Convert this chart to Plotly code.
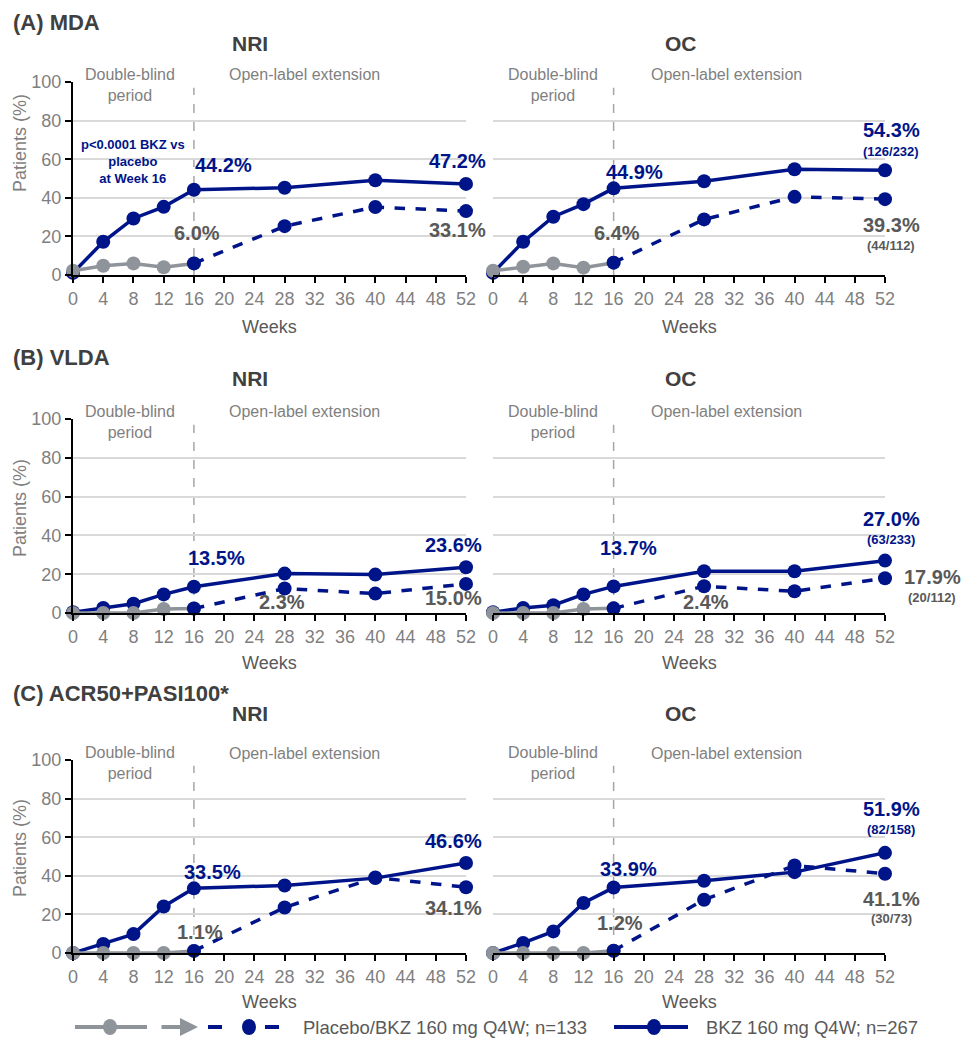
import plotly.graph_objects as go

# ---------------- data ----------------
weeks = [0, 4, 8, 12, 16, 28, 40, 52]
week_ticks = list(range(0, 53, 4))
y_ticks = [0, 20, 40, 60, 80, 100]
switch_week = 16

panel_titles = ["NRI", "OC", "NRI", "OC", "NRI", "OC"]
row_titles = ["(A) MDA", "(B) VLDA", "(C) ACR50+PASI100*"]

a_nri_bkz = [1.1, 17.2, 29.3, 35.3, 44.2, 45.2, 49.1, 47.2]
a_nri_pbo = [2.2, 4.8, 6.0, 4.0, 6.0, 25.3, 35.2, 33.1]
a_oc_bkz = [1.1, 17.2, 30.2, 36.7, 44.9, 48.6, 54.8, 54.3]
a_oc_pbo = [2.2, 4.3, 6.0, 3.8, 6.4, 28.8, 40.5, 39.3]
b_nri_bkz = [0.4, 2.6, 4.8, 9.6, 13.5, 20.3, 19.8, 23.6]
b_nri_pbo = [0.0, 0.0, 0.0, 2.1, 2.3, 12.6, 10.0, 15.0]
b_oc_bkz = [0.4, 2.6, 4.0, 9.6, 13.7, 21.5, 21.5, 27.0]
b_oc_pbo = [0.0, 0.0, 0.0, 2.1, 2.4, 13.8, 11.2, 17.9]
c_nri_bkz = [0.0, 4.7, 9.8, 24.1, 33.5, 35.0, 38.8, 46.6]
c_nri_pbo = [0.0, 0.0, 0.0, 0.0, 1.1, 23.6, 39.1, 34.1]
c_oc_bkz = [0.0, 5.2, 11.2, 25.9, 33.9, 37.4, 41.9, 51.9]
c_oc_pbo = [0.0, 0.0, 0.0, 0.0, 1.2, 27.6, 45.3, 41.1]

bkz_series = [a_nri_bkz, a_oc_bkz, b_nri_bkz, b_oc_bkz, c_nri_bkz, c_oc_bkz]
pbo_series = [a_nri_pbo, a_oc_pbo, b_nri_pbo, b_oc_pbo, c_nri_pbo, c_oc_pbo]

# OC week-52 counts (BKZ, placebo)
oc_counts_bkz = ["(126/232)", "(63/233)", "(82/158)"]
oc_counts_pbo = ["(44/112)", "(20/112)", "(30/73)"]

legend_pbo = "Placebo/BKZ 160 mg Q4W; n=133"
legend_bkz = "BKZ 160 mg Q4W; n=267"
p_text = "p<0.0001 BKZ vs<br>placebo<br>at Week 16"

# ---------------- style ----------------
W, H = 963, 1042
NAVY = "#001489"
GREY = "#8f949a"
DGREY = "#595959"
TGREY = "#7f7f7f"
FONT = "Liberation Sans, Arial, sans-serif"

col_px = [(73, 466), (493, 885)]
row_px = [(82, 275), (419, 613), (760, 953)]

fig = go.Figure()
annotations = []
shapes = []

def px_x(p):
    return p / W

def px_y(p):
    return 1 - p / H

# label offsets (xshift, yshift) per panel: bkz16, pbo16, bkz52, pbo52
label_shifts = [
    [(30, 25), (3, 30), (-9, 23), (-9, -19)],
    [(21, 16), (3, 30), (6, 40), (6, -26)],
    [(23, 29), (88, 7), (-13, 22), (-13, -14)],
    [(15, 38), (92, 6), (6, 42), (47, 1)],
    [(19, 16), (6, 19), (-13, 22), (-13, -21)],
    [(15, 19), (6, 28), (6, 44), (6, -25)],
]

for i in range(6):
    r, c = divmod(i, 2)
    xa = "x" if i == 0 else f"x{i+1}"
    ya = "y" if i == 0 else f"y{i+1}"
    xkey = "xaxis" if i == 0 else f"xaxis{i+1}"
    ykey = "yaxis" if i == 0 else f"yaxis{i+1}"
    x0, x1 = col_px[c]
    yt, yb = row_px[r]
    fig.layout[xkey] = dict(
        domain=[px_x(x0), px_x(x1)], range=[0, 52], anchor=ya, automargin=False,
        tickvals=week_ticks, showgrid=False, zeroline=False,
        showline=True, linecolor="black", linewidth=2,
        ticks="outside", ticklen=6, tickwidth=1.5, tickcolor="black",
        tickfont=dict(family=FONT, size=18, color=TGREY),
        fixedrange=True,
    )
    fig.layout[ykey] = dict(
        domain=[px_y(yb), px_y(yt)], range=[0, 100], anchor=xa, automargin=False,
        tickvals=y_ticks, showgrid=True, gridcolor="#d9d9d9", gridwidth=1.5,
        zeroline=False,
        showline=(c == 0), linecolor="black", linewidth=2,
        ticks="outside" if c == 0 else "", ticklen=6, tickwidth=1.5, tickcolor="black",
        showticklabels=(c == 0),
        tickfont=dict(family=FONT, size=18, color=TGREY),
        fixedrange=True,
    )

    bkz = bkz_series[i]
    pbo = pbo_series[i]
    k = weeks.index(switch_week)

    # vertical dashed divider
    shapes.append(dict(type="line", xref=xa, yref=ya, x0=switch_week, x1=switch_week,
                       y0=0, y1=97, line=dict(color="#a6a6a6", width=1.5, dash="dash"),
                       layer="below"))

    fig.add_trace(go.Scatter(x=weeks, y=bkz, xaxis=xa, yaxis=ya, mode="lines+markers",
                             line=dict(color=NAVY, width=3.5),
                             marker=dict(color=NAVY, size=14), cliponaxis=False,
                             showlegend=False, hoverinfo="skip"))
    fig.add_trace(go.Scatter(x=weeks[:k + 1], y=pbo[:k + 1], xaxis=xa, yaxis=ya,
                             mode="lines+markers",
                             line=dict(color=GREY, width=3.5),
                             marker=dict(color=GREY, size=14), cliponaxis=False,
                             showlegend=False, hoverinfo="skip"))
    fig.add_trace(go.Scatter(x=weeks[k:], y=pbo[k:], xaxis=xa, yaxis=ya,
                             mode="lines+markers",
                             line=dict(color=NAVY, width=3.5, dash="dash"),
                             marker=dict(color=NAVY, size=14), cliponaxis=False,
                             showlegend=False, hoverinfo="skip"))

    # period labels
    annotations.append(dict(xref=xa, yref=ya, x=7.6 if c == 0 else 8.0, y=100,
                            text="Double-blind<br>period", showarrow=False,
                            yanchor="top", yshift=18,
                            font=dict(family=FONT, size=16, color=TGREY)))
    annotations.append(dict(xref=xa, yref=ya, x=30.6 if c == 0 else 31.0, y=100,
                            text="Open-label extension", showarrow=False,
                            yanchor="middle", yshift=7,
                            font=dict(family=FONT, size=16, color=TGREY)))

    # value labels
    sh = label_shifts[i]
    specs = [(bkz, k, NAVY, sh[0]), (pbo, k, DGREY, sh[1]),
             (bkz, len(weeks) - 1, NAVY, sh[2]), (pbo, len(weeks) - 1, DGREY, sh[3])]
    for ser, idx, col, (dx, dy) in specs:
        annotations.append(dict(xref=xa, yref=ya, x=weeks[idx], y=ser[idx],
                                text=f"<b>{ser[idx]:.1f}%</b>", showarrow=False,
                                xshift=dx, yshift=dy,
                                font=dict(family=FONT, size=20, color=col)))
    if c == 1:
        last = len(weeks) - 1
        annotations.append(dict(xref=xa, yref=ya, x=weeks[last], y=bkz[last],
                                text=f"<b>{oc_counts_bkz[r]}</b>", showarrow=False,
                                xshift=sh[2][0], yshift=sh[2][1] - 21,
                                font=dict(family=FONT, size=13, color=NAVY)))
        annotations.append(dict(xref=xa, yref=ya, x=weeks[last], y=pbo[last],
                                text=f"<b>{oc_counts_pbo[r]}</b>", showarrow=False,
                                xshift=sh[3][0], yshift=sh[3][1] - 20,
                                font=dict(family=FONT, size=13, color=DGREY)))

    # panel title
    annotations.append(dict(xref="paper", yref="paper",
                            x=px_x(250 if c == 0 else 681),
                            y=px_y([43, 378, 713][r]), text=f"<b>{panel_titles[i]}</b>",
                            showarrow=False, xanchor="center", yanchor="middle",
                            font=dict(family=FONT, size=21, color="#404040")))
    # Weeks
    annotations.append(dict(xref="paper", yref="paper", x=px_x((x0 + x1) / 2),
                            y=px_y([327, 663, 1002][r]), text="Weeks", showarrow=False,
                            xanchor="center", yanchor="middle",
                            font=dict(family=FONT, size=18, color=DGREY)))

# p-value annotation
annotations.append(dict(xref="x", yref="y", x=8.0, y=59, text=f"<b>{p_text}</b>",
                        showarrow=False, align="center",
                        font=dict(family=FONT, size=13, color=NAVY)))

# row titles and y titles
for r in range(3):
    annotations.append(dict(xref="paper", yref="paper", x=px_x(11),
                            y=px_y([22, 357, 693][r]), text=f"<b>{row_titles[r]}</b>",
                            showarrow=False, xanchor="left", yanchor="middle",
                            font=dict(family=FONT, size=22, color="#404040")))
    annotations.append(dict(xref="paper", yref="paper", x=px_x(20),
                            y=px_y([143, 508, 848][r]), text="Patients (%)",
                            showarrow=False, textangle=-90, xanchor="center",
                            yanchor="middle",
                            font=dict(family=FONT, size=18, color=TGREY)))

# ---------------- manual legend ----------------
LY = 1027
def hline(xa_, xb_, color, dash="solid", width=4):
    shapes.append(dict(type="line", xref="paper", yref="paper", x0=px_x(xa_), x1=px_x(xb_),
                       y0=px_y(LY), y1=px_y(LY), line=dict(color=color, width=width, dash=dash)))

def dot(cx, color, rx=7, ry=8):
    shapes.append(dict(type="circle", xref="paper", yref="paper",
                       x0=px_x(cx - rx), x1=px_x(cx + rx), y0=px_y(LY + ry), y1=px_y(LY - ry),
                       fillcolor=color, line=dict(color=color, width=0)))

hline(75, 147, GREY)
dot(110, GREY)
annotations.append(dict(xref="paper", yref="paper", x=px_x(198), y=px_y(LY),
                        ax=-38, ay=0, axref="pixel", ayref="pixel", text="",
                        showarrow=True, arrowhead=2, arrowsize=0.9, arrowwidth=4,
                        arrowcolor=GREY))
hline(208, 222, NAVY)
hline(265, 279, NAVY)
dot(249, NAVY)
annotations.append(dict(xref="paper", yref="paper", x=px_x(301), y=px_y(LY),
                        text=legend_pbo, showarrow=False, xanchor="left", yanchor="middle",
                        font=dict(family=FONT, size=18.5, color=DGREY)))
hline(614, 688, NAVY)
dot(654, NAVY)
annotations.append(dict(xref="paper", yref="paper", x=px_x(704), y=px_y(LY),
                        text=legend_bkz, showarrow=False, xanchor="left", yanchor="middle",
                        font=dict(family=FONT, size=18.5, color=DGREY)))

fig.update_layout(width=W, height=H, margin=dict(l=0, r=0, t=0, b=0, autoexpand=False),
                  paper_bgcolor="white", plot_bgcolor="white",
                  showlegend=False, annotations=annotations, shapes=shapes,
                  font=dict(family=FONT))

fig.write_html("out.html", config={"displayModeBar": False},
               post_script="document.body.style.margin='0';document.body.style.padding='0';")
